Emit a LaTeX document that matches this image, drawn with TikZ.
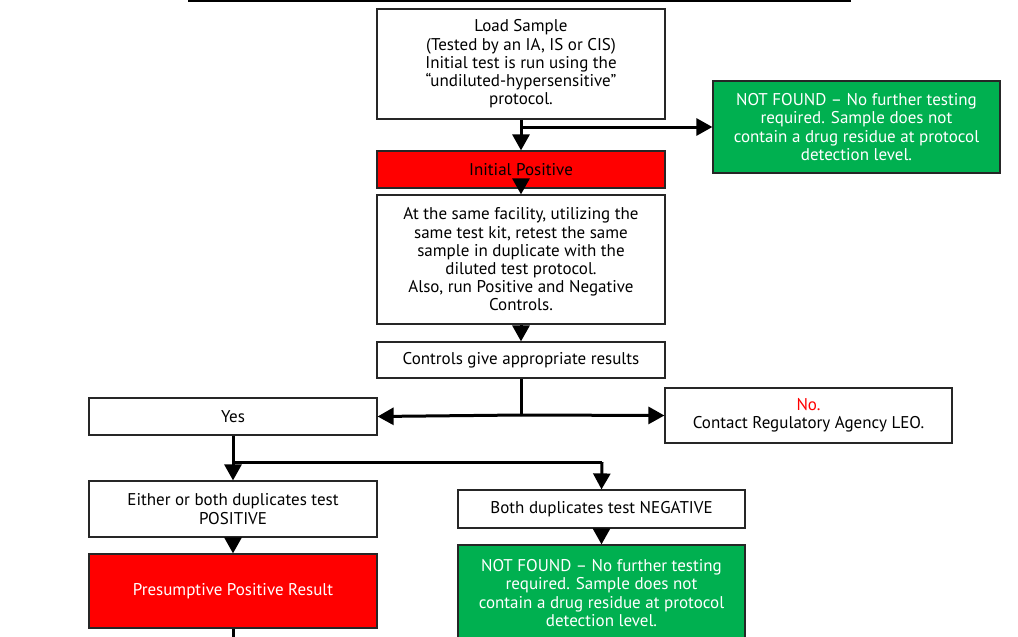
\documentclass[tikz,border=0pt]{standalone}
\usepackage{fontspec}
\setmainfont{PT Sans}
\usetikzlibrary{arrows.meta}
\definecolor{rred}{HTML}{FF0000}
\definecolor{ggreen}{HTML}{00B050}
\begin{document}
\begin{tikzpicture}[x=1pt,y=-1pt,
  box/.style={draw=black!85,line width=1.2pt,fill=white,rectangle,align=center,inner sep=2pt,
    font=\fontsize{17}{18.2}\selectfont},
  redbox/.style={box,fill=rred},
  greenbox/.style={box,fill=ggreen,text=white},
  conn/.style={line width=3pt,-{Triangle[width=17pt,length=16pt]}},
  plain/.style={line width=3pt}]
\useasboundingbox (0,0) rectangle (1018,637);
\clip (0,0) rectangle (1018,637);
\draw[line width=2pt] (188,1) -- (851,1);
\node[box,minimum width=288pt,minimum height=110pt] (A) at (521,64) {Load Sample\\(Tested by an IA, IS or CIS)\\Initial test is run using the\\“undiluted-hypersensitive”\\protocol.};
\node[greenbox,minimum width=287pt,minimum height=92pt] (G1) at (856.5,127) {NOT FOUND – No further testing\\required. Sample does not\\contain a drug residue at protocol\\detection level.};
\node[redbox,minimum width=288pt,minimum height=37pt] (R1) at (521,169.5) {Initial Positive};
\node[box,minimum width=288pt,minimum height=129pt] (B) at (521,259.5) {At the same facility, utilizing the\\same test kit, retest the same\\sample in duplicate with the\\diluted test protocol.\\Also, run Positive and Negative\\Controls.};
\node[box,minimum width=288pt,minimum height=36pt] (C) at (521,360) {Controls give appropriate results};
\node[box,minimum width=288pt,minimum height=37pt] (Y) at (233,416.5) {Yes};
\node[box,minimum width=287pt,minimum height=55pt] (N) at (808.5,415.5) {\textcolor{rred}{No.}\\Contact Regulatory Agency LEO.};
\node[box,minimum width=288pt,minimum height=56pt] (E) at (233,509) {Either or both duplicates test\\POSITIVE};
\node[box,minimum width=287pt,minimum height=38pt] (BN) at (601.5,509) {Both duplicates test NEGATIVE};
\node[redbox,text=white,minimum width=288pt,minimum height=74pt] (P) at (233,591) {Presumptive Positive Result};
\node[greenbox,minimum width=287pt,minimum height=96pt] (G2) at (601.5,593) {NOT FOUND – No further testing\\required. Sample does not\\contain a drug residue at protocol\\detection level.};
\coordinate (a1) at (521,127);
\coordinate (c1) at (521,415);
\coordinate (y1) at (233,462);
\coordinate (y2) at (602,462);
\coordinate (pend) at (233,660);
\draw[conn] (A.south) -- (R1.north);
\draw[conn] (a1) -- (G1.west);
\draw[conn] (R1.south) -- (B.north);
\draw[conn] (B.south) -- (C.north);
\draw[plain] (C.south) -- (c1);
\draw[conn] (c1) -- (Y.east);
\draw[conn] (c1) -- (N.west);
\draw[plain] (Y.south) -- (y1);
\draw[conn] (y1) -- (E.north);
\draw[plain] (y1) -- (y2);
\draw[conn] (y2) -- (BN.north);
\draw[conn] (E.south) -- (P.north);
\draw[conn] (BN.south) -- (G2.north);
\draw[plain] (P.south) -- (pend);
\end{tikzpicture}
\end{document}
